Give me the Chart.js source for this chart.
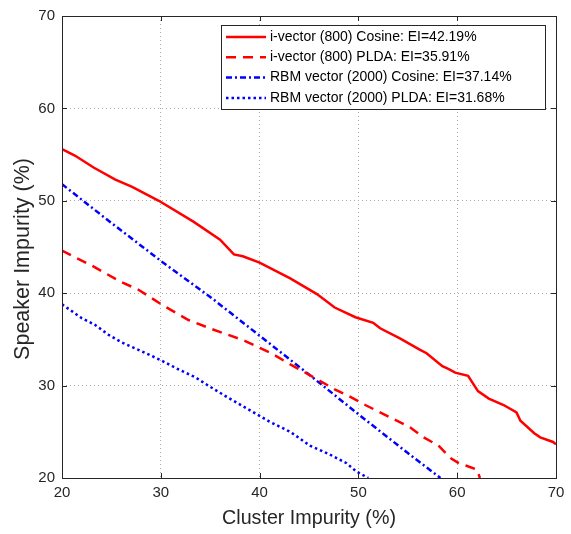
<!DOCTYPE html>
<html lang="en">
<head>
    <meta charset="UTF-8">
    <title>Speaker vs Cluster Impurity</title>
    <script src="https://cdn.jsdelivr.net/npm/chart.js"></script>
    <style>
        body {
            margin: 0;
            background: #fff;
        }
        #wrap {
            width: 571px;
            height: 534px;
        }
    </style>
</head>
<body>
    <div id="wrap">
        <canvas id="impurityChart" width="571" height="534"></canvas>
    </div>

    <script>
        // values (x = cluster impurity, y = speaker impurity)
        const ivecCosX = [20, 21.3, 23.2, 25.4, 27.1, 29.8, 33.3, 36.0, 37.4, 38.3, 40.0, 43.1, 45.8, 47.6, 49.7, 51.5, 52.2, 54.2, 56.2, 56.9, 58.5, 59.1, 59.8, 61.1, 62.1, 63.2, 64.7, 66.0, 66.4, 67.8, 68.4, 69.7, 70];
        const ivecCosY = [55.6, 54.9, 53.6, 52.3, 51.5, 50.0, 47.75, 45.8, 44.2, 44.0, 43.3, 41.6, 39.9, 38.45, 37.4, 36.8, 36.2, 35.1, 33.9, 33.5, 32.1, 31.8, 31.4, 31.05, 29.4, 28.6, 27.9, 27.1, 26.2, 24.85, 24.4, 23.9, 23.65];

        const ivecPldaX = [20, 21.3, 23.0, 26.0, 27.7, 30.2, 32.8, 35.2, 36.8, 38.5, 40.0, 41.1, 43.1, 45.8, 47.6, 48.8, 50.7, 53.5, 55.2, 56.6, 58.1, 59.4, 60.1, 61.0, 62.0, 62.3];
        const ivecPldaY = [44.6, 43.9, 43.0, 41.2, 40.4, 38.7, 37.1, 36.1, 35.5, 34.85, 34.1, 33.55, 32.3, 30.7, 29.6, 29.0, 27.9, 26.4, 25.5, 24.4, 23.5, 22.1, 21.65, 21.3, 20.9, 20.0];

        const rbmCosX = [20, 25, 30, 35, 40, 45, 50, 55, 58.3];
        const rbmCosY = [51.8, 47.6, 43.5, 39.6, 35.4, 31.2, 26.9, 22.7, 20.0];

        const rbmPldaX = [20, 22.0, 23.3, 24.7, 26.0, 28.1, 29.9, 31.8, 33.5, 34.8, 36.8, 38.9, 41.0, 43.1, 45.1, 47.0, 48.8, 49.8, 51.0];
        const rbmPldaY = [38.8, 37.3, 36.6, 35.5, 34.7, 33.7, 32.8, 31.75, 30.9, 30.0, 28.7, 27.4, 26.1, 25.0, 23.5, 22.6, 21.6, 20.7, 20.0];

        const seriesLabels = [
            'i-vector (800) Cosine: EI=42.19%',
            'i-vector (800) PLDA: EI=35.91%',
            'RBM vector (2000) Cosine: EI=37.14%',
            'RBM vector (2000) PLDA: EI=31.68%'
        ];
        const axisTicks = [20, 30, 40, 50, 60, 70];

        const FONT = "'Liberation Sans', Arial, Helvetica, sans-serif";
        const INK = '#262626';

        const toPoints = (xs, ys) => xs.map((x, i) => ({ x: x, y: ys[i] }));

        // box round the plot, inward ticks, legend inside the axes (matlab style)
        const framePlugin = {
            id: 'frame',
            afterDatasetsDraw(chart) {
                const ctx = chart.ctx;
                const a = chart.chartArea;
                const xs = chart.scales.x;
                const ys = chart.scales.y;
                const tl = 5;
                ctx.save();
                ctx.strokeStyle = INK;
                ctx.lineWidth = 1;
                ctx.setLineDash([]);
                ctx.strokeRect(a.left + 0.5, a.top + 0.5, a.right - a.left, a.bottom - a.top);
                ctx.beginPath();
                xs.ticks.forEach(t => {
                    const px = Math.round(xs.getPixelForValue(t.value)) + 0.5;
                    ctx.moveTo(px, a.bottom); ctx.lineTo(px, a.bottom - tl);
                    ctx.moveTo(px, a.top); ctx.lineTo(px, a.top + tl);
                });
                ys.ticks.forEach(t => {
                    const py = Math.round(ys.getPixelForValue(t.value)) + 0.5;
                    ctx.moveTo(a.left, py); ctx.lineTo(a.left + tl, py);
                    ctx.moveTo(a.right, py); ctx.lineTo(a.right - tl, py);
                });
                ctx.stroke();

                // legend box
                const bx = 221, by = 25, bw = 324, bh = 84;
                ctx.fillStyle = '#fff';
                ctx.fillRect(bx, by, bw, bh);
                ctx.strokeStyle = INK;
                ctx.strokeRect(bx + 0.5, by + 0.5, bw, bh);
                ctx.font = '14px ' + FONT;
                ctx.textBaseline = 'middle';
                chart.data.datasets.forEach((ds, i) => {
                    const ly = by + 12 + i * 20.3;
                    ctx.strokeStyle = ds.borderColor;
                    ctx.lineWidth = ds.borderWidth;
                    ctx.setLineDash(ds.borderDash || []);
                    ctx.beginPath();
                    ctx.moveTo(226, ly);
                    ctx.lineTo(266, ly);
                    ctx.stroke();
                    ctx.setLineDash([]);
                    ctx.fillStyle = '#000';
                    ctx.fillText(ds.label, 270, ly);
                });
                ctx.restore();
            }
        };

        const ctx = document.getElementById('impurityChart').getContext('2d');
        new Chart(ctx, {
            type: 'line',
            data: {
                datasets: [
                    {
                        label: seriesLabels[0],
                        data: toPoints(ivecCosX, ivecCosY),
                        borderColor: '#ff0000',
                        borderWidth: 2.5
                    },
                    {
                        label: seriesLabels[1],
                        data: toPoints(ivecPldaX, ivecPldaY),
                        borderColor: '#ff0000',
                        borderWidth: 2.5,
                        borderDash: [10, 7]
                    },
                    {
                        label: seriesLabels[2],
                        data: toPoints(rbmCosX, rbmCosY),
                        borderColor: '#0000ff',
                        borderWidth: 2.5,
                        borderDash: [6, 3, 2, 3]
                    },
                    {
                        label: seriesLabels[3],
                        data: toPoints(rbmPldaX, rbmPldaY),
                        borderColor: '#0000ff',
                        borderWidth: 2.5,
                        borderDash: [2.5, 3]
                    }
                ]
            },
            options: {
                responsive: false,
                animation: false,
                devicePixelRatio: 1,
                layout: {
                    padding: { left: 0, top: 12, right: 15, bottom: 0 }
                },
                elements: {
                    point: { radius: 0 },
                    line: { tension: 0, borderCapStyle: 'butt' }
                },
                plugins: {
                    legend: { display: false },
                    tooltip: { enabled: false }
                },
                scales: {
                    x: {
                        type: 'linear',
                        min: 20,
                        max: 70,
                        afterBuildTicks: s => { s.ticks = axisTicks.map(v => ({ value: v })); },
                        afterFit: s => { s.height = 56; },
                        grid: { color: '#aaaaaa', lineWidth: 1, drawTicks: false },
                        border: { display: false, dash: [1, 3] },
                        ticks: {
                            color: INK,
                            padding: 6,
                            maxRotation: 0,
                            font: { family: FONT, size: 15 }
                        },
                        title: {
                            display: true,
                            text: 'Cluster Impurity (%)',
                            color: INK,
                            padding: { top: 0, bottom: 4 },
                            font: { family: FONT, size: 19.7 }
                        }
                    },
                    y: {
                        type: 'linear',
                        min: 20,
                        max: 70,
                        afterBuildTicks: s => { s.ticks = axisTicks.map(v => ({ value: v })); },
                        afterFit: s => { s.width = 62; },
                        grid: { color: '#aaaaaa', lineWidth: 1, drawTicks: false },
                        border: { display: false, dash: [1, 3] },
                        ticks: {
                            color: INK,
                            padding: 7,
                            font: { family: FONT, size: 15 }
                        },
                        title: {
                            display: true,
                            // trailing spaces push the label a bit below the axis centre, as in the original
                            text: 'Speaker Impurity (%)    ',
                            color: INK,
                            padding: { top: 10, bottom: 0 },
                            font: { family: FONT, size: 21.5 }
                        }
                    }
                }
            },
            plugins: [framePlugin]
        });
    </script>
</body>
</html>
